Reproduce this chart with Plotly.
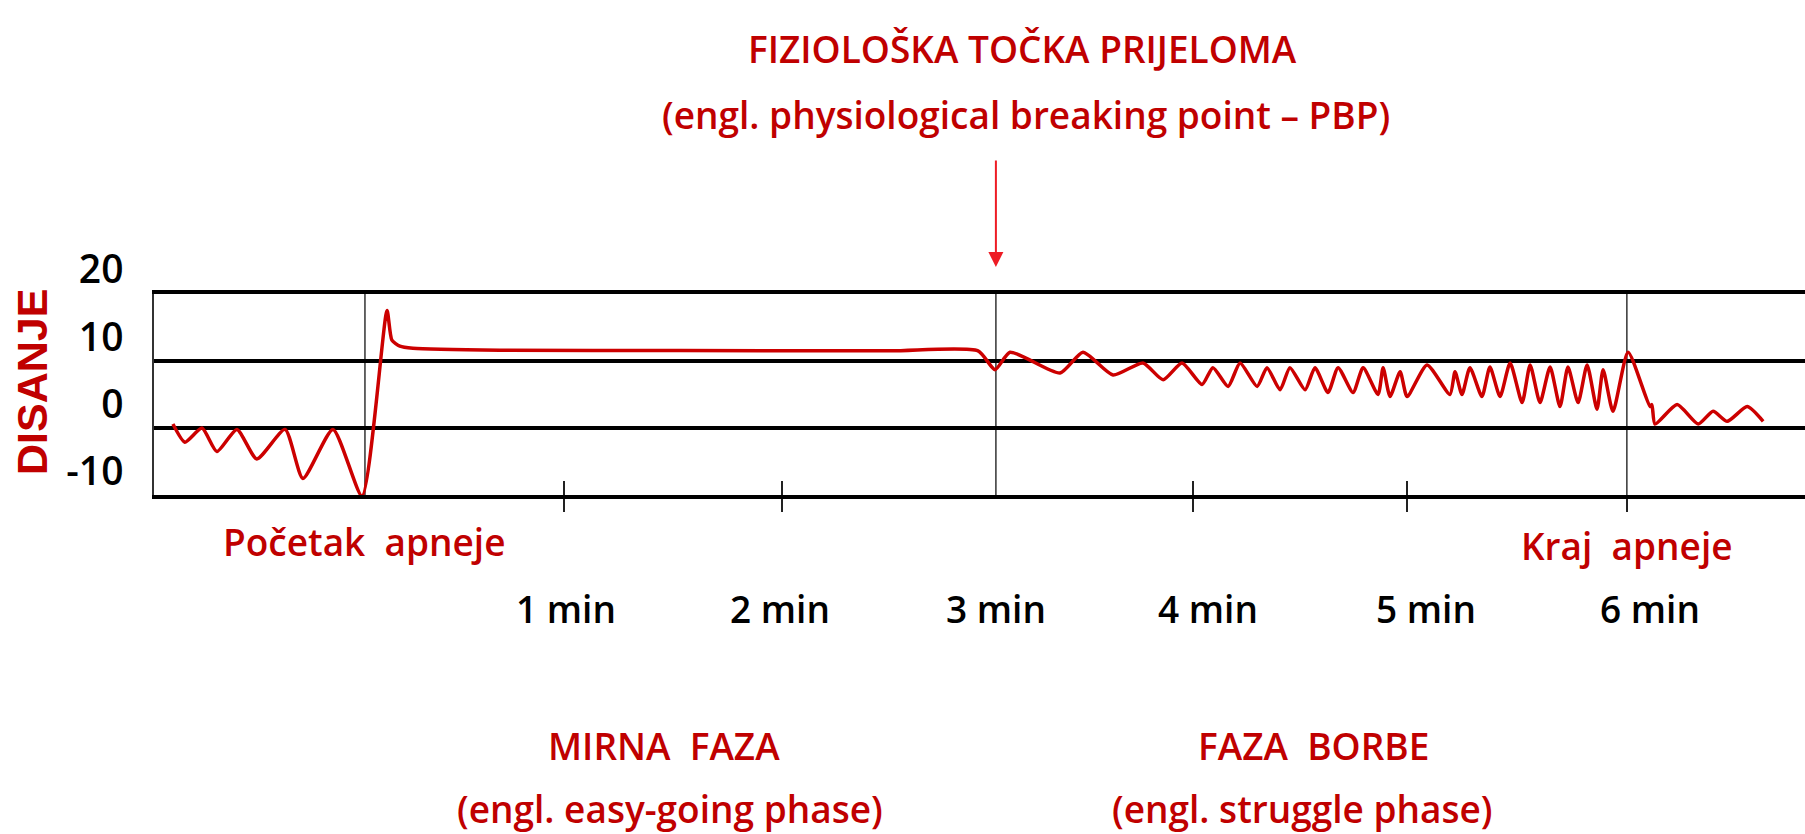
import plotly.graph_objects as go

# ---- data (time in minutes from start of apnea, breathing signal units) ----
t_min = [-0.913, -0.856, -0.775, -0.704, -0.609, -0.514, -0.380, -0.295, -0.152, -0.014,
         0.105, 0.128, 0.166, 0.228, 0.642, 1.5, 2.5, 2.915,
         2.996, 3.067, 3.305, 3.414, 3.557, 3.699, 3.795, 3.885, 3.980, 4.032, 4.104, 4.161,
         4.242, 4.289, 4.351, 4.398, 4.470, 4.517, 4.579, 4.627, 4.698, 4.746, 4.817, 4.841,
         4.874, 4.922, 4.955, 5.050, 5.159, 5.183, 5.216, 5.254, 5.311, 5.349, 5.397, 5.445,
         5.502, 5.540, 5.587, 5.635, 5.682, 5.720, 5.768, 5.811, 5.858, 5.887, 5.934, 6.006,
         6.110, 6.119, 6.134, 6.239, 6.339, 6.410, 6.477, 6.572, 6.648]
breath = [0.6, -2.1, 0.0, -3.5, -0.2, -4.6, -0.2, -7.5, -0.2, -10.1,
          17.5, 13.1, 12.2, 11.9, 11.6, 11.55, 11.5, 11.5,
          8.7, 11.3, 8.2, 11.3, 7.9, 9.7, 7.2, 9.7, 6.5, 9.0, 6.2, 9.7,
          6.2, 9.0, 5.7, 9.0, 5.7, 9.0, 5.3, 9.0, 5.3, 9.0, 5.0, 9.0,
          4.7, 8.4, 4.7, 9.4, 5.0, 8.4, 5.0, 9.0, 4.7, 9.1, 4.7, 9.7,
          3.8, 9.4, 3.8, 9.1, 3.2, 9.1, 3.8, 9.4, 2.8, 8.7, 2.5, 11.3,
          3.2, 3.5, 0.6, 3.5, 0.6, 2.5, 1.0, 3.2, 1.0]

event_minutes = [0, 3, 6]                      # apnea start, PBP, apnea end
tick_minutes = [0.946, 1.983, 3.937, 4.955]    # small tick marks on the bottom line
minute_label_pos = [0.956, 1.973, 3.0, 4.009, 5.045, 6.110]
minute_labels = ["1 min", "2 min", "3 min", "4 min", "5 min", "6 min"]
y_ticks = [-10, 0, 10, 20]
y_tick_labels = ["-10", "0", "10", "20"]

TITLE_1 = "FIZIOLOŠKA TOČKA PRIJELOMA"
TITLE_2 = "(engl. physiological breaking point – PBP)"
Y_TITLE = "DISANJE"
START_LABEL = "Početak  apneje"
END_LABEL = "Kraj  apneje"
PHASE_1 = ["MIRNA  FAZA", "(engl. easy-going phase)"]
PHASE_2 = ["FAZA  BORBE", "(engl. struggle phase)"]

W, H = 1805, 834
RED_TEXT = "#c00000"
RED_LINE = "#cc0000"
RED_ARROW = "#ee1c25"
FONT = "Open Sans, Lato, sans-serif"
FS = 37
WEIGHT = 600


def py(px):  # pixel row -> paper fraction
    return (H - px) / H


def label(text, x, y, xref="x", color=RED_TEXT, size=FS, family=FONT, angle=0, weight=WEIGHT):
    return dict(text=text, xref=xref, yref="paper", x=x, y=y, xanchor="center",
                yanchor="middle", showarrow=False, textangle=angle,
                font=dict(family=family, size=size, color=color, weight=weight))


fig = go.Figure()
fig.add_trace(go.Scatter(
    x=t_min, y=breath, mode="lines",
    line=dict(color=RED_LINE, width=3.5, shape="spline", smoothing=0.6),
    hoverinfo="skip", showlegend=False))

for t in event_minutes:
    fig.add_shape(type="line", xref="x", yref="y domain", x0=t, x1=t, y0=0, y1=1,
                  line=dict(color="#333333", width=1.5), layer="below")

ann = [
    label(TITLE_1, 1023 / W, py(49), xref="paper"),
    label(TITLE_2, 1026 / W, py(114), xref="paper"),
    dict(text="", xref="x", yref="paper", x=event_minutes[1], y=py(267),
         ax=0, ay=-108, showarrow=True, arrowhead=2, arrowsize=1.5,
         arrowwidth=2, arrowcolor=RED_ARROW),
    label(START_LABEL, event_minutes[0], py(541)),
    label(END_LABEL, event_minutes[2], py(545)),
    label(PHASE_1[0], 1.42, py(745)),
    label(PHASE_1[1], 1.45, py(808)),
    label(PHASE_2[0], 4.51, py(745)),
    label(PHASE_2[1], 4.46, py(808)),
    label(Y_TITLE, 32 / W, py(382), xref="paper", size=43,
          family="Liberation Sans, Arial, sans-serif", angle=-90, weight=700),
]
for xp, lab in zip(minute_label_pos, minute_labels):
    ann.append(label(lab, xp, py(608), color="black"))

fig.update_layout(
    width=W, height=H,
    margin=dict(l=0, r=0, t=0, b=0, autoexpand=False),
    paper_bgcolor="white", plot_bgcolor="white",
    showlegend=False,
    annotations=ann,
    xaxis=dict(
        domain=[154 / W, 1.0], range=[-1.003, 6.847],
        showgrid=False, zeroline=False, automargin=False,
        showline=True, mirror=True, linecolor="black", linewidth=4,
        tickmode="array", tickvals=tick_minutes + [event_minutes[2]],
        ticks="outside", ticklen=13, tickwidth=2, tickcolor="#222222",
        showticklabels=False,
        minor=dict(tickmode="array", tickvals=tick_minutes, ticks="inside",
                   ticklen=14, tickwidth=2, tickcolor="#222222", showgrid=False),
    ),
    yaxis=dict(
        domain=[py(495.2), py(293.8)], range=[-10, 20], automargin=False,
        tickmode="array", tickvals=y_ticks, ticktext=y_tick_labels,
        showgrid=True, gridcolor="black", gridwidth=4, zeroline=False,
        showline=True, linecolor="#333333", linewidth=1.5,
        ticks="", ticklabelshift=-24, ticklabelstandoff=21,
        tickfont=dict(family=FONT, size=39, color="black", weight=WEIGHT),
    ),
)

fig.write_html(
    "out.html",
    config={"responsive": False, "displayModeBar": False},
    post_script="document.body.style.margin='0';document.body.style.overflow='hidden';",
)
